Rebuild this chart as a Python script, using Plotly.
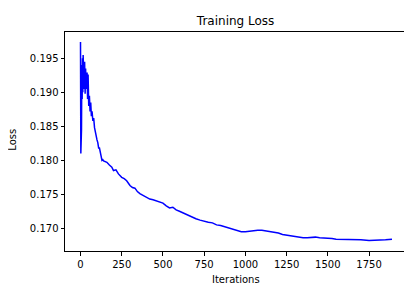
import plotly.graph_objects as go

iterations = [0, 2, 4, 6, 8, 10, 12, 14, 16, 18, 20, 22, 25, 28, 31, 34, 37, 40, 43, 46,
              50, 54, 58, 62, 66, 70, 75, 80, 85, 90, 95, 100, 105, 110, 115, 120, 125, 130, 135, 140,
              160, 175, 190, 200, 215, 230, 250, 265, 280, 300, 315, 330, 345, 360, 380, 400,
              420, 440, 460, 480, 500, 520, 540, 560, 580, 600, 625, 650, 675, 700, 725, 750,
              775, 800, 825, 850, 875, 900, 925, 950, 975, 1000, 1025, 1050, 1075, 1100, 1125,
              1150, 1175, 1200, 1225, 1250, 1275, 1300, 1325, 1350, 1375, 1400, 1425, 1450, 1475,
              1500, 1525, 1550, 1575, 1600, 1650, 1700, 1750, 1775, 1800, 1850, 1889]
loss = [0.1974, 0.1810, 0.1955, 0.1845, 0.1940, 0.1890, 0.1950, 0.1900, 0.1955, 0.1915,
        0.1948, 0.1905, 0.1945, 0.1898, 0.1935, 0.1905, 0.1928, 0.1928, 0.1890, 0.1926,
        0.1880, 0.1895, 0.1872, 0.1885, 0.1865, 0.1872, 0.1858, 0.1862, 0.1848, 0.1840,
        0.1838, 0.1830, 0.1826, 0.1818, 0.1818, 0.1808, 0.1806, 0.1800, 0.1801, 0.1799,
        0.1797, 0.1793, 0.1790, 0.1785, 0.1786, 0.1780, 0.1775, 0.1773, 0.1770, 0.1763,
        0.1760, 0.1759, 0.1754, 0.1751, 0.1748, 0.1746, 0.1743, 0.1742, 0.1740, 0.1738,
        0.1737, 0.1733, 0.1730, 0.1731, 0.1727, 0.1725, 0.1722, 0.1719, 0.1716, 0.1714,
        0.1712, 0.1710, 0.1709, 0.1708, 0.1705, 0.1704, 0.1702, 0.1700, 0.1698, 0.1696,
        0.1695, 0.1695, 0.1696, 0.1697, 0.1697, 0.1697, 0.1696, 0.1696, 0.1695, 0.1693,
        0.1691, 0.1690, 0.1688, 0.1687, 0.1686, 0.1686, 0.1686, 0.1687, 0.1687, 0.1686,
        0.1686, 0.1686, 0.1685, 0.1684, 0.1684, 0.1683, 0.1683, 0.1683, 0.1682, 0.1682,
        0.1683, 0.1683, 0.1684]

x_ticks = [0, 250, 500, 750, 1000, 1250, 1500, 1750]
y_ticks = [0.170, 0.175, 0.180, 0.185, 0.190, 0.195]

FONT = "DejaVu Sans"

# page body has an 8px margin, so the figure is sized to fill the remaining window
W, H = 404, 281

fig = go.Figure(go.Scatter(x=iterations, y=loss, mode="lines",
                           line=dict(color="#0000ff", width=1.5), showlegend=False))

axis_common = dict(showline=True, mirror=True, linecolor="#000000", linewidth=1,
                   ticks="outside", ticklen=3.5, tickwidth=0.8, tickcolor="#000000",
                   showgrid=False, zeroline=False, automargin=False,
                   tickfont=dict(family=FONT, size=10, color="#000000"))

fig.update_layout(
    width=W, height=H,
    margin=dict(l=57, r=6, t=24, b=38, autoexpand=False),
    paper_bgcolor="white", plot_bgcolor="white",
    title=dict(text="Training Loss", x=(235.6 - 8) / W, xanchor="center", y=1 - 12.7 / H,
               yanchor="middle", font=dict(family=FONT, size=12, color="#000000")),
    xaxis=dict(range=[-94, 1974], tickvals=x_ticks, ticktext=[str(v) for v in x_ticks],
               **axis_common),
    yaxis=dict(range=[0.16666, 0.19887], tickvals=y_ticks,
               ticktext=[f"{v:.3f}" for v in y_ticks], **axis_common),
    annotations=[
        dict(text="Iterations", xref="paper", yref="paper", x=0.5, y=0,
             xanchor="center", yanchor="middle", yshift=-28.3, showarrow=False,
             font=dict(family=FONT, size=10, color="#000000")),
        dict(text="Loss", xref="paper", yref="paper", x=0, y=0.507, textangle=-90,
             xanchor="center", yanchor="middle", xshift=-52.3, showarrow=False,
             font=dict(family=FONT, size=10, color="#000000")),
    ],
)

fig.write_html("out.html")
